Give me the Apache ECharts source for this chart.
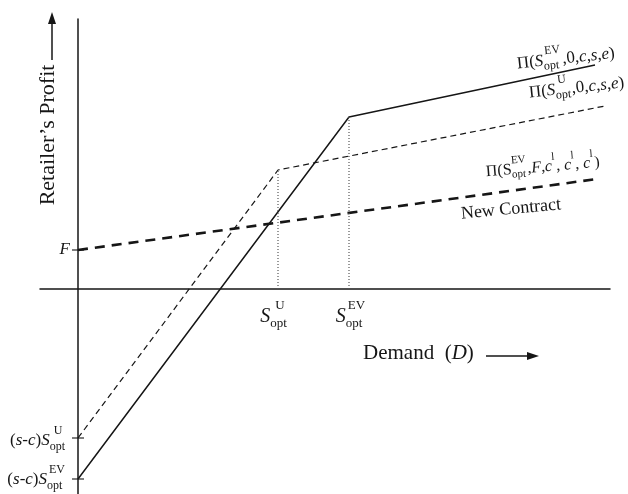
<!DOCTYPE html>
<html><head><meta charset="utf-8">
<script src="https://cdn.jsdelivr.net/npm/echarts@6/dist/echarts.min.js"></script>
<style>html,body{margin:0;padding:0;background:#fff}#c{width:628px;height:494px}</style>
</head><body><div id="c"></div>
<script>
// ---- data (abstract units) ----
const S_U = 20.0;      // S_opt^U
const S_EV = 27.1;     // S_opt^EV
const F = 3.9;
const lossU = -14.9;   // (s-c) S_opt^U
const lossEV = -19.0;  // (s-c) S_opt^EV
const demandEV = [0, S_EV, 51.7];
const profitEV = [lossEV, 17.2, 22.4];
const demandU = [0, S_U, 52.7];
const profitU = [lossU, 11.9, 18.3];
const demandNew = [0, 51.9];
const profitNew = [F, 11.0];
const yTickValues = [F, lossU, lossEV];

const zip = (a, b) => a.map((v, i) => [v, b[i]]);
const chart = echarts.init(document.getElementById('c'), null, {renderer: 'canvas'});
const INK = '#161616';
const FAM = '"Liberation Serif","Times New Roman",serif';

chart.setOption({
  animation: false,
  grid: {left: 40, right: 18, top: 19, bottom: 0, containLabel: false},
  xAxis: {type: 'value', min: -3.8, max: 53.2, splitLine: {show: false},
    axisLine: {show: true, onZero: true, lineStyle: {color: INK, width: 1.5}},
    axisTick: {show: false}, axisLabel: {show: false}},
  yAxis: {type: 'value', min: -20.5, max: 27, splitLine: {show: false},
    axisLine: {show: true, onZero: true, lineStyle: {color: INK, width: 1.5}},
    axisTick: {show: false}, axisLabel: {show: false}},
  series: [
    {type: 'line', data: zip(demandEV, profitEV), symbol: 'none',
     lineStyle: {color: INK, width: 1.5}},
    {type: 'line', data: zip(demandU, profitU), symbol: 'none',
     lineStyle: {color: INK, width: 1.2, type: [6, 4]}},
    {type: 'line', data: zip(demandNew, profitNew), symbol: 'none',
     lineStyle: {color: INK, width: 2.6, type: [10, 7]}},
    {type: 'line', data: [[S_U, 0], [S_U, profitU[1]]], symbol: 'none',
     lineStyle: {color: '#555', width: 1.2, type: [1, 2]}},
    {type: 'line', data: [[S_EV, 0], [S_EV, profitEV[1]]], symbol: 'none',
     lineStyle: {color: '#555', width: 1.2, type: [1, 2]}},
    {type: 'scatter', data: yTickValues.map(v => [0, v]), symbol: 'rect',
     symbolSize: [12, 1.4], itemStyle: {color: INK}}
  ]
});

// ---- math-like labels ----
const mctx = document.createElement('canvas').getContext('2d');
function fnt(size, it) { return (it ? 'italic ' : '') + size + 'px ' + FAM; }
function tw(t, size, it) { mctx.font = fnt(size, it); return mctx.measureText(t).width; }
function txt(t, x, y, size, it) {
  return {type: 'text', x: x, y: y, style: {text: t, font: fnt(size, it), fill: INK,
    align: 'left', verticalAlign: 'middle', textAlign: 'left', textVerticalAlign: 'middle'}};
}
function mathLabel(pieces, o) {
  const size = o.size, ss = o.ss || Math.round(size * 0.68);
  let cx = 0; const kids = [];
  pieces.forEach(p => {
    if (p.t !== undefined) {
      kids.push(txt(p.t, cx, 0, size, p.i));
      cx += tw(p.t, size, p.i) + (p.gap || 0);
    } else {
      let mw = 0;
      if (p.sup) { kids.push(txt(p.sup, cx + (p.supDx || 0), -size * 0.58, ss, p.supI)); mw = Math.max(mw, tw(p.sup, ss, p.supI) + (p.supDx || 0)); }
      if (p.sub) { kids.push(txt(p.sub, cx, size * 0.32, ss, false)); mw = Math.max(mw, tw(p.sub, ss, false)); }
      cx += mw + 1;
    }
  });
  const shift = o.align === 'right' ? -cx : (o.align === 'center' ? -cx / 2 : 0);
  kids.forEach(k => k.x += shift);
  return {type: 'group', x: o.x, y: o.y, rotation: (o.rot || 0) * Math.PI / 180, children: kids};
}
const px = (x, y) => chart.convertToPixel({xAxisIndex: 0, yAxisIndex: 0}, [x, y]);

const g = [];
// curve labels
g.push(mathLabel([{t: 'Π('}, {t: 'S', i: true}, {sup: 'EV', sub: 'opt', supDx: 2}, {t: ',0,'}, {t: 'c', i: true}, {t: ','}, {t: 's', i: true}, {t: ','}, {t: 'e', i: true}, {t: ')'}],
  {x: 517, y: 64, rot: 6.2, size: 17, ss: 12}));
g.push(mathLabel([{t: 'Π('}, {t: 'S', i: true}, {sup: 'U', sub: 'opt', supDx: 3}, {t: ',0,'}, {t: 'c', i: true}, {t: ','}, {t: 's', i: true}, {t: ','}, {t: 'e', i: true}, {t: ')'}],
  {x: 529, y: 93, rot: 6, size: 17, ss: 12}));
g.push(mathLabel([{t: 'Π(S'}, {sup: 'EV', sub: 'opt'}, {t: ','}, {t: 'F', i: true}, {t: ','}, {t: 'c', i: true}, {sup: 'l'}, {t: ', '}, {t: 'c', i: true}, {sup: 'l'}, {t: ', '}, {t: 'c', i: true}, {sup: 'l'}, {t: ')'}],
  {x: 486, y: 172, rot: 4.8, size: 16, ss: 11}));
g.push({type: 'text', x: 461, y: 214, rotation: 5.4 * Math.PI / 180,
  style: {text: 'New Contract', font: fnt(18, false), fill: INK, align: 'left', verticalAlign: 'middle', textAlign: 'left', textVerticalAlign: 'middle'}});

// y-axis tick labels
const pF = px(0, F), pU = px(0, lossU), pE = px(0, lossEV);
g.push(mathLabel([{t: 'F', i: true}], {x: pF[0] - 8, y: pF[1], size: 17, align: 'right'}));
g.push(mathLabel([{t: '('}, {t: 's', i: true}, {t: '-'}, {t: 'c', i: true}, {t: ')'}, {t: 'S', i: true}, {sup: 'U', sub: 'opt', supDx: 4}],
  {x: pU[0] - 12, y: pU[1] + 3, size: 17, ss: 12, align: 'right'}));
g.push(mathLabel([{t: '('}, {t: 's', i: true}, {t: '-'}, {t: 'c', i: true}, {t: ')'}, {t: 'S', i: true}, {sup: 'EV', sub: 'opt', supDx: 2}],
  {x: pE[0] - 12, y: pE[1] + 1, size: 17, ss: 12, align: 'right'}));

// x-axis labels
const pSU = px(S_U, 0), pSE = px(S_EV, 0);
g.push(mathLabel([{t: 'S', i: true, gap: 0}, {sup: 'U', sub: 'opt', supDx: 5}], {x: pSU[0] - 4, y: pSU[1] + 28, size: 20, ss: 13, align: 'center'}));
g.push(mathLabel([{t: 'S', i: true, gap: 0}, {sup: 'EV', sub: 'opt', supDx: 2}], {x: pSE[0] + 2, y: pSE[1] + 28, size: 20, ss: 13, align: 'center'}));

// axis titles with arrows
g.push({type: 'text', x: 48, y: 135, rotation: Math.PI / 2,
  style: {text: 'Retailer\u2019s Profit', font: fnt(22, false), fill: INK, align: 'center', verticalAlign: 'middle', textAlign: 'center', textVerticalAlign: 'middle'}});
g.push({type: 'line', shape: {x1: 52, y1: 60, x2: 52, y2: 22}, style: {stroke: INK, lineWidth: 1.5}});
g.push({type: 'polygon', shape: {points: [[52, 12], [48, 24], [56, 24]]}, style: {fill: INK}});
g.push(mathLabel([{t: 'Demand  ('}, {t: 'D', i: true}, {t: ')'}], {x: 363, y: 353, size: 21}));
g.push({type: 'line', shape: {x1: 486, y1: 356, x2: 530, y2: 356}, style: {stroke: INK, lineWidth: 1.5}});
g.push({type: 'polygon', shape: {points: [[539, 356], [527, 352], [527, 360]]}, style: {fill: INK}});

chart.setOption({graphic: {elements: g}});
</script></body></html>
